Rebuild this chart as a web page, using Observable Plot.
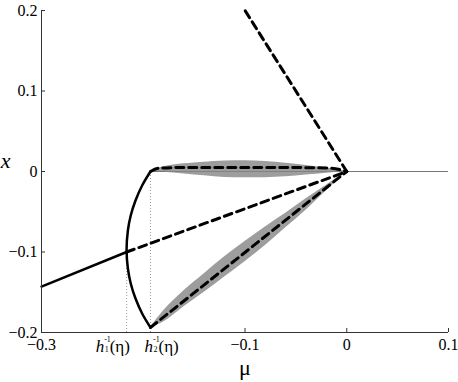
<!DOCTYPE html>
<html>
<head>
<meta charset="utf-8">
<script src="https://cdn.jsdelivr.net/npm/d3@7"></script>
<script src="https://cdn.jsdelivr.net/npm/@observablehq/plot@0.6"></script>
<style>
  html, body { margin: 0; padding: 0; background: #fff; }
  #chart svg { display: block; }
  #chart svg, #chart svg text { font-family: "Liberation Serif", "Times New Roman", serif !important; }
</style>
</head>
<body>
<div id="chart"></div>
<script>
// ---- data ----
const xTicks = [-0.3, -0.1, 0, 0.1];
const xTickLabels = ["\u22120.3", "\u22120.1", "0", "0.1"];
const yTicks = [-0.2, -0.1, 0, 0.1, 0.2];
const yTickLabels = ["\u22120.2", "\u22120.1", "0", "0.1", "0.2"];

const h1 = -0.2163;   // h1^{-1}(eta)
const h2 = -0.1929;   // h2^{-1}(eta)

// solid arc between the two branches
const arcMu = [-0.1929, -0.2011, -0.2076, -0.2123, -0.2151, -0.2164, -0.2151, -0.2123, -0.2076, -0.2011, -0.1929];
const arcX  = [0, -0.0174, -0.036, -0.0547, -0.0733, -0.0969, -0.1205, -0.1391, -0.1578, -0.1764, -0.1938];

// solid branch on the left
const leftMu = [-0.3, -0.2163];
const leftX  = [-0.1429, -0.1];

// dashed lines
const midMu = [-0.2163, 0];
const midX  = [-0.1, 0];
const topMu = [0, -0.1];
const topX  = [0, 0.2];
const lowMu = [-0.1929, 0];
const lowX  = [-0.1938, 0];
const upMu  = [-0.1929, -0.185, -0.16, -0.1, -0.04, -0.015, 0];
const upX   = [0, 0.004, 0.005, 0.005, 0.0048, 0.004, 0];

// stippled clouds (lens-shaped bands)
const lowLensMu  = [-0.1929, -0.18, -0.16, -0.14, -0.12, -0.10, -0.08, -0.06, -0.04, -0.02, 0];
const lowLensTop = [-0.1938, -0.173, -0.148, -0.127, -0.106, -0.087, -0.069, -0.052, -0.034, -0.017, 0];
const lowLensBot = [-0.1938, -0.187, -0.168, -0.150, -0.131, -0.112, -0.092, -0.070, -0.048, -0.024, 0];
const upLensMu  = [-0.1929, -0.185, -0.17, -0.15, -0.13, -0.11, -0.09, -0.07, -0.05, -0.03, -0.015, 0];
const upLensTop = [0, 0.004, 0.008, 0.0105, 0.0125, 0.0135, 0.013, 0.0115, 0.009, 0.006, 0.0035, 0];
const upLensBot = [0, 0, -0.002, -0.0045, -0.0065, -0.0078, -0.0078, -0.007, -0.0055, -0.0035, -0.0015, 0];

// ---- build tables ----
const pts = (mu, x) => mu.map((m, i) => ({mu: m, x: x[i]}));
const band = (mu, a, b) => mu.map((m, i) => ({mu: m, top: a[i], bot: b[i]}));

const serif = "Liberation Serif";
const dash = {stroke: "black", strokeWidth: 3, strokeDasharray: "8,5"};
const solid = {stroke: "black", strokeWidth: 2.5};
const lens = {fill: "#858585", fillOpacity: 0.8};

// pieces of the h_k^{-1}(eta) labels, placed relative to tick value
function hLabel(value, sub, dx0) {
  const base = {x: value, y: -0.2, lineAnchor: "bottom", textAnchor: "start", fill: "black"};
  return [
    Plot.text(["h"], {...base, dx: dx0, dy: 19, fontSize: 17, fontStyle: "italic"}),
    Plot.text(["-1"], {...base, dx: dx0 + 8.5, dy: 9, fontSize: 8}),
    Plot.text([sub], {...base, dx: dx0 + 9, dy: 19, fontSize: 8}),
    Plot.text(["(\u03b7)"], {...base, dx: dx0 + 14, dy: 19, fontSize: 17})
  ];
}

const chart = Plot.plot({
  width: 458,
  height: 382,
  marginLeft: 41,
  marginRight: 10,
  marginTop: 10,
  marginBottom: 50,
  x: {domain: [-0.3, 0.1], label: null},
  y: {domain: [-0.2, 0.2], label: null},
  style: {fontFamily: serif, fontSize: "16px", color: "black", background: "white"},
  marks: [
    // gray zero line
    Plot.ruleY([0], {x1: h2, x2: 0.1, stroke: "#777", strokeWidth: 1}),
    // stippled clouds
    Plot.areaY(band(lowLensMu, lowLensTop, lowLensBot), {x: "mu", y1: "bot", y2: "top", curve: "monotone-x", ...lens}),
    Plot.areaY(band(upLensMu, upLensTop, upLensBot), {x: "mu", y1: "bot", y2: "top", curve: "monotone-x", ...lens}),
    // dotted verticals
    Plot.ruleX([h1], {y1: -0.2, y2: -0.1, stroke: "#999", strokeWidth: 1, strokeDasharray: "1,2"}),
    Plot.ruleX([h2], {y1: -0.2, y2: 0, stroke: "#999", strokeWidth: 1, strokeDasharray: "1,2"}),
    // solid curves
    Plot.line(pts(arcMu, arcX), {x: "mu", y: "x", curve: "catmull-rom", ...solid}),
    Plot.line(pts(leftMu, leftX), {x: "mu", y: "x", ...solid}),
    // dashed curves
    Plot.line(pts(midMu, midX), {x: "mu", y: "x", ...dash}),
    Plot.line(pts(topMu, topX), {x: "mu", y: "x", ...dash}),
    Plot.line(pts(lowMu, lowX), {x: "mu", y: "x", ...dash}),
    Plot.line(pts(upMu, upX), {x: "mu", y: "x", curve: "monotone-x", ...dash}),
    // axis lines
    Plot.ruleX([-0.3], {stroke: "#333", strokeWidth: 1}),
    Plot.ruleY([-0.2], {stroke: "#333", strokeWidth: 1}),
    // inward ticks
    Plot.axisX(xTicks, {tickSize: -4, tickFormat: () => "", stroke: "#333", label: null}),
    Plot.axisY(yTicks, {tickSize: -4, tickFormat: () => "", stroke: "#333", label: null}),
    // tick labels
    Plot.axisX(xTicks, {tickSize: 0, tickPadding: 6, tickFormat: (d, i) => xTickLabels[i], fontSize: 16, label: null}),
    Plot.axisY(yTicks, {tickSize: 0, tickPadding: 4, tickFormat: (d, i) => yTickLabels[i], fontSize: 16, label: null}),
    // h labels
    ...hLabel(h1, "1", -31),
    ...hLabel(h2, "2", -6),
    // axis titles
    Plot.text(["\u03bc"], {x: -0.1, y: -0.2, dy: 35, fontSize: 22, textAnchor: "middle"}),
    Plot.text(["x"], {frameAnchor: "left", y: 0.0137, dx: -36, fontSize: 22, fontStyle: "italic", textAnchor: "middle"})
  ]
});
document.getElementById("chart").appendChild(chart);
</script>
</body>
</html>
